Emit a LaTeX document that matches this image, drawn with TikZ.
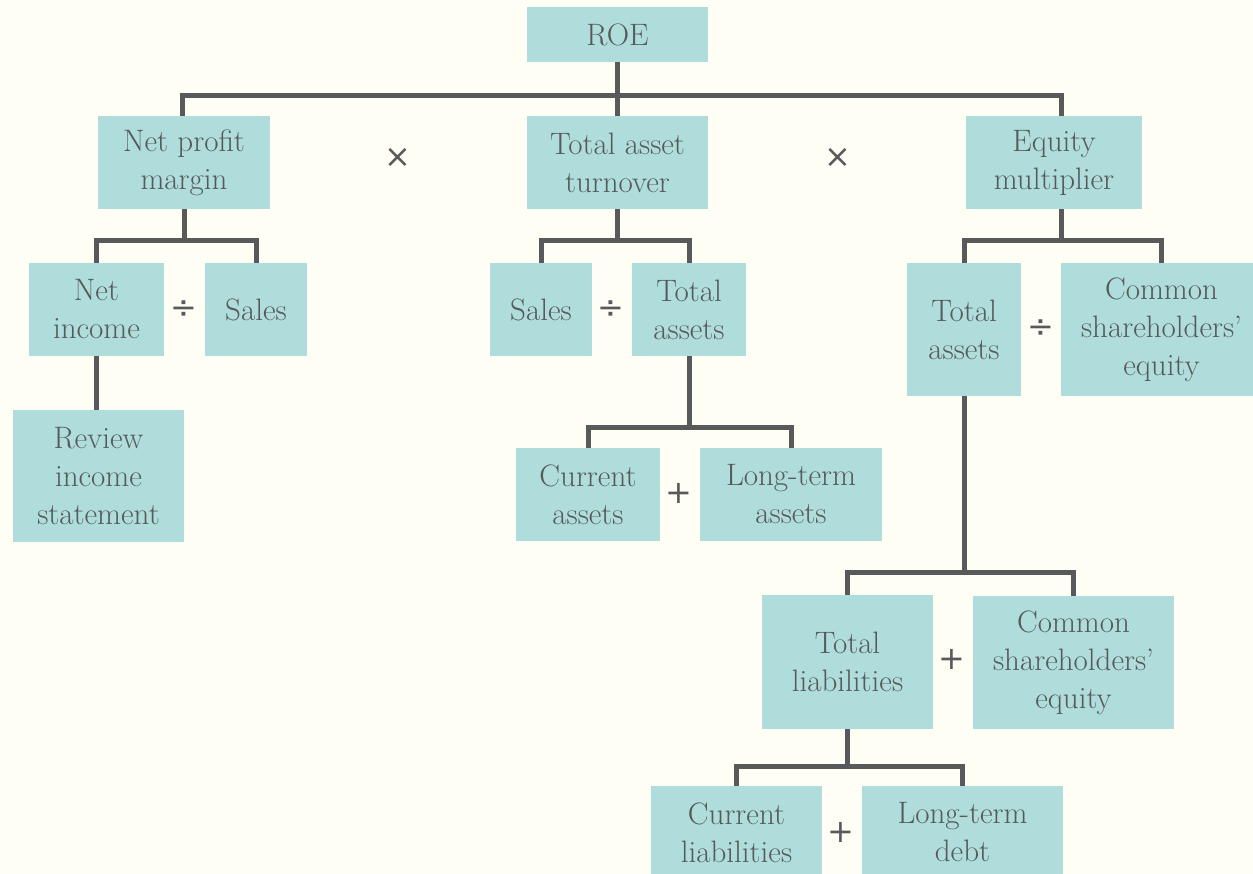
\documentclass[tikz,border=0pt]{standalone}
\usepackage{fontspec}
\newfontfamily\opfont{DejaVu Sans}
\usetikzlibrary{positioning}
\definecolor{paper}{HTML}{FEFEF4}
\definecolor{boxfill}{HTML}{AFDDDB}
\definecolor{ink}{HTML}{58595B}
\tikzset{
  box/.style={fill=boxfill,text=ink,inner sep=0pt,align=center,font=\fontsize{31}{38}\selectfont},
  dims/.style 2 args={minimum width=#1pt,minimum height=#2pt},
  op/.style={text=ink,inner sep=0pt,font=\opfont\fontsize{32}{32}\selectfont},
  link/.style={draw=ink,line width=5pt}
}
\begin{document}
\begin{tikzpicture}[x=1pt,y=-1pt]
\path[use as bounding box,fill=paper] (0,0) rectangle (1253,874);
\node[box,dims={181}{55}] (roe) at (617.5,34.5) {ROE};
\node[box,dims={172}{93}] (npm) at (184,162.5) {Net profit\\margin};
\node[box,dims={181}{93}] (tat) at (617.5,162.5) {Total asset\\turnover};
\node[box,dims={176}{93}] (em) at (1054,162.5) {Equity\\multiplier};
\node[box,dims={135}{93}] (ni) at (96.5,309.5) {Net\\income};
\node[box,dims={102}{93}] (sales1) at (256,309.5) {Sales};
\node[box,dims={171}{132}] (review) at (98.5,476) {Review\\income\\statement};
\node[box,dims={102}{93}] (sales2) at (541,309.5) {Sales};
\node[box,dims={114}{93}] (ta1) at (689,309.5) {Total\\assets};
\node[box,dims={144}{93}] (ca) at (588,494.5) {Current\\assets};
\node[box,dims={182}{93}] (lta) at (791,494.5) {Long-term\\assets};
\node[box,dims={114}{133}] (ta2) at (964,329.5) {Total\\assets};
\node[box,dims={201}{133}] (cse1) at (1161.5,329.5) {Common\\shareholders'\\equity};
\node[box,dims={171}{134}] (tl) at (847.5,662) {Total\\liabilities};
\node[box,dims={201}{133}] (cse2) at (1073.5,662.5) {Common\\shareholders'\\equity};
\node[box,dims={171}{93}] (cl) at (736.5,832.5) {Current\\liabilities};
\node[box,dims={201}{93}] (ltd) at (962.5,832.5) {Long-term\\debt};
\node[op] (times1) at (398,158) {×};
\node[op] (times2) at (838,158) {×};
\node[op] (div1) at (184,310) {÷};
\node[op] (div2) at (611,310) {÷};
\node[op] (div3) at (1041,329) {÷};
\node[op] (plus1) at (679,493) {+};
\node[op] (plus2) at (952,659) {+};
\node[op] (plus3) at (841,832) {+};
\draw[link] (roe.south) -- ++(0,33) coordinate (b0);
\draw[link] ([xshift=-2pt]npm.north) |- (b0) -| ([xshift=7pt]em.north);
\draw[link] (b0) -- (tat.north);
\draw[link] (npm.south) -- ++(0,31) coordinate (b1);
\draw[link] (ni.north) |- (b1) -| (sales1.north);
\draw[link] (ni.south) -- (ni.south |- review.north);
\draw[link] (tat.south) -- ++(0,31) coordinate (b2);
\draw[link] (sales2.north) |- (b2) -| (ta1.north);
\draw[link] (ta1.south) -- ++(0,71) coordinate (b3);
\draw[link] (ca.north) |- (b3) -| (lta.north);
\draw[link] ([xshift=7pt]em.south) -- ++(0,31) coordinate (b4);
\draw[link] (ta2.north) |- (b4) -| (cse1.north);
\draw[link] (ta2.south) -- ++(0,176) coordinate (b5);
\draw[link] (tl.north) |- (b5) -| (cse2.north);
\draw[link] (tl.south) -- ++(0,37) coordinate (b6);
\draw[link] (cl.north) |- (b6) -| (ltd.north);
\end{tikzpicture}
\end{document}
